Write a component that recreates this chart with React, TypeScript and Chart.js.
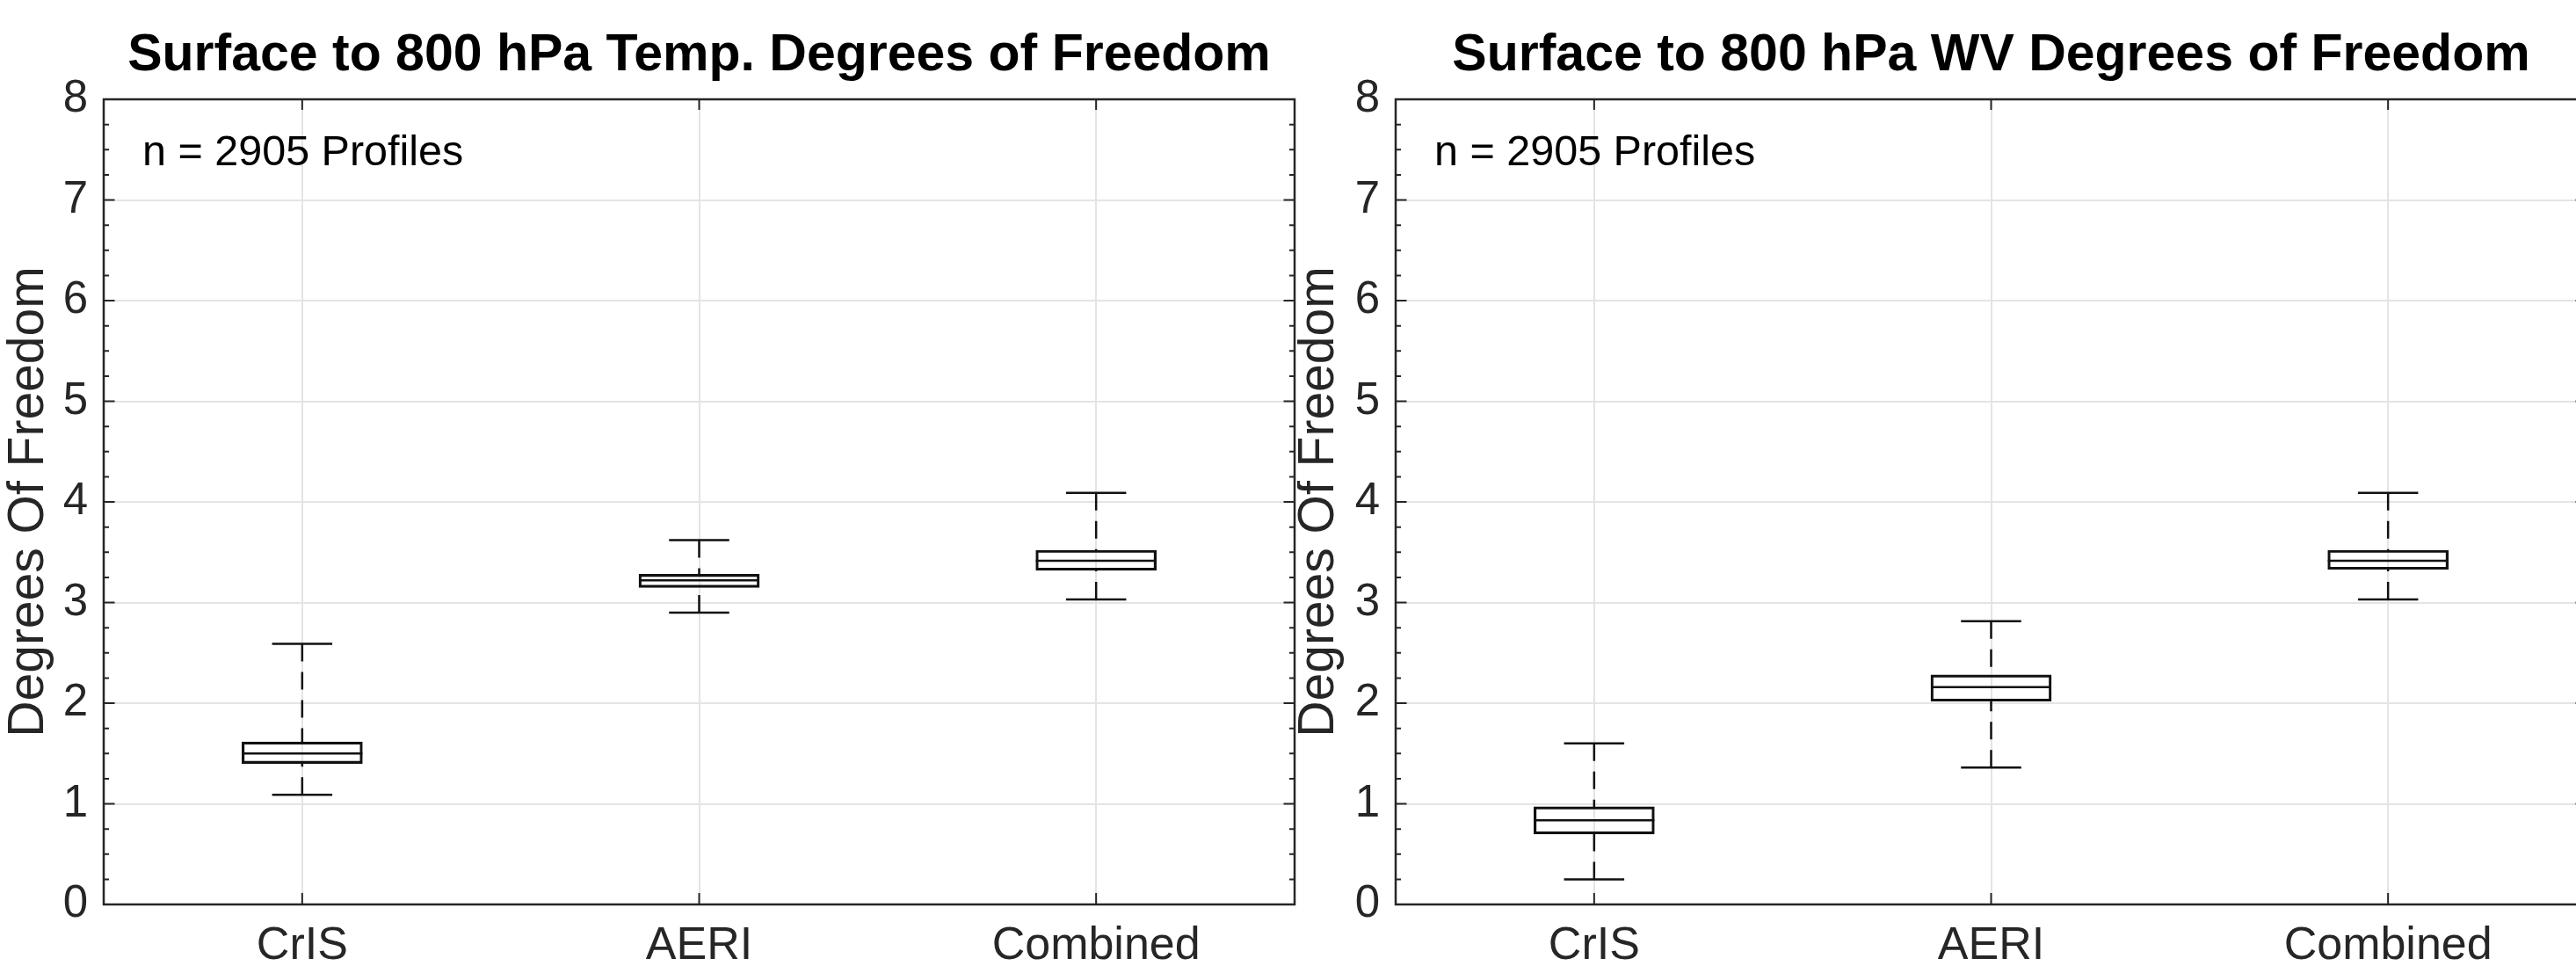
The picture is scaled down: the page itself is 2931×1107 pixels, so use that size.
import React, { useEffect, useRef } from "react";
import { Chart, registerables } from "chart.js";

Chart.register(...registerables);

// ---------- data ----------
const categories = ["CrIS", "AERI", "Combined"];
const yTickValues = [0, 1, 2, 3, 4, 5, 6, 7, 8];
const minorTickStep = 0.25;

const panelTitles = [
  "Surface to 800 hPa Temp. Degrees of Freedom",
  "Surface to 800 hPa WV Degrees of Freedom",
];
const yAxisTitle = "Degrees Of Freedom";
const annotationText = "n = 2905 Profiles";
const annotationY = 7.46;

// Temperature panel (left)
const tempLow = [1.09, 2.9, 3.03];
const tempQ1 = [1.4, 3.15, 3.32];
const tempMedian = [1.5, 3.22, 3.415];
const tempQ3 = [1.615, 3.28, 3.52];
const tempHigh = [2.59, 3.62, 4.09];

// Water vapour panel (right)
const wvLow = [0.25, 1.36, 3.03];
const wvQ1 = [0.7, 2.02, 3.33];
const wvMedian = [0.837, 2.16, 3.415];
const wvQ3 = [0.97, 2.28, 3.52];
const wvHigh = [1.6, 2.815, 4.09];

// ---------- styling ----------
const FONT = "'Liberation Sans', Arial, Helvetica, sans-serif";
const AXIS_COLOR = "#262626";
const GRID_COLOR = "#e4e4e4";
const BOX_COLOR = "#111111";

const boxWhiskerPlugin = {
  id: "boxWhiskers",
  afterDatasetsDraw(chart: any) {
    const ds: any = chart.data.datasets[0];
    const meta = chart.getDatasetMeta(0);
    const ys = chart.scales.y;
    const ctx = chart.ctx;
    ctx.save();
    ctx.strokeStyle = BOX_COLOR;
    ctx.lineWidth = 2.5;
    meta.data.forEach((bar: any, i: number) => {
      const { x, width } = bar.getProps(["x", "width"], true);
      const half = width / 2;
      const cap = width / 4;
      const pLow = ys.getPixelForValue(ds.low[i]);
      const pQ1 = ys.getPixelForValue(ds.q1[i]);
      const pMed = ys.getPixelForValue(ds.median[i]);
      const pQ3 = ys.getPixelForValue(ds.q3[i]);
      const pHigh = ys.getPixelForValue(ds.high[i]);
      // dashed whiskers (drawn from cap toward box)
      ctx.setLineDash([20, 12]);
      ctx.beginPath();
      ctx.moveTo(x, pHigh);
      ctx.lineTo(x, pQ3);
      ctx.moveTo(x, pLow);
      ctx.lineTo(x, pQ1);
      ctx.stroke();
      ctx.setLineDash([]);
      // caps
      ctx.beginPath();
      ctx.moveTo(x - cap, pHigh);
      ctx.lineTo(x + cap, pHigh);
      ctx.moveTo(x - cap, pLow);
      ctx.lineTo(x + cap, pLow);
      ctx.stroke();
      // median
      ctx.beginPath();
      ctx.moveTo(x - half, pMed);
      ctx.lineTo(x + half, pMed);
      ctx.stroke();
    });
    ctx.restore();
  },
};

const framePlugin = {
  id: "matlabFrame",
  afterDraw(chart: any) {
    const { left, right, top, bottom } = chart.chartArea;
    const ctx = chart.ctx;
    const ys = chart.scales.y;
    const xs = chart.scales.x;
    ctx.save();
    ctx.strokeStyle = AXIS_COLOR;
    ctx.lineWidth = 2.5;
    ctx.strokeRect(left, top, right - left, bottom - top);
    ctx.lineWidth = 2;
    ctx.beginPath();
    const yMin = yTickValues[0];
    const yMax = yTickValues[yTickValues.length - 1];
    for (let v = yMin; v <= yMax + 1e-9; v += minorTickStep) {
      const p = ys.getPixelForValue(v);
      const major = Math.abs(v - Math.round(v)) < 1e-6;
      const len = major ? 12.5 : 6;
      ctx.moveTo(left, p);
      ctx.lineTo(left + len, p);
      ctx.moveTo(right, p);
      ctx.lineTo(right - len, p);
    }
    categories.forEach((_, i) => {
      const p = xs.getPixelForValue(i);
      ctx.moveTo(p, bottom);
      ctx.lineTo(p, bottom - 13);
      ctx.moveTo(p, top);
      ctx.lineTo(p, top + 12);
    });
    ctx.stroke();
    // annotation
    ctx.fillStyle = "#000";
    ctx.font = `48.5px ${FONT}`;
    ctx.textAlign = "left";
    ctx.textBaseline = "middle";
    ctx.fillText(annotationText, left + 44, ys.getPixelForValue(annotationY));
    ctx.restore();
  },
};

type PanelSpec = {
  title: string;
  low: number[];
  q1: number[];
  median: number[];
  q3: number[];
  high: number[];
  yAxisWidth: number;
  rightPad: number;
  yTitlePad: number;
};

function makeConfig(p: PanelSpec): any {
  return {
    type: "bar",
    data: {
      labels: categories,
      datasets: [
        {
          data: p.q1.map((v, i) => [v, p.q3[i]]),
          low: p.low,
          q1: p.q1,
          median: p.median,
          q3: p.q3,
          high: p.high,
          backgroundColor: "rgba(0,0,0,0)",
          borderColor: BOX_COLOR,
          borderWidth: 2.5,
          borderSkipped: false,
          barThickness: 137,
        },
      ],
    },
    options: {
      animation: false,
      responsive: false,
      devicePixelRatio: 1,
      events: [],
      layout: { padding: { left: 0, right: p.rightPad, top: 0, bottom: 0 } },
      plugins: {
        legend: { display: false },
        tooltip: { enabled: false },
        title: {
          display: true,
          text: p.title,
          fullSize: false,
          color: "#000",
          font: { family: FONT, size: 59, weight: "bold", lineHeight: 1.2 },
          padding: { top: 28.1, bottom: 14.1 },
        },
      },
      scales: {
        x: {
          type: "category",
          offset: true,
          grid: { offset: false, color: GRID_COLOR, lineWidth: 2, drawTicks: false },
          border: { display: false },
          ticks: {
            color: AXIS_COLOR,
            font: { family: FONT, size: 52, lineHeight: 1.2 },
            padding: 16,
            maxRotation: 0,
            autoSkip: false,
          },
          afterFit: (s: any) => {
            s.height = 78;
          },
        },
        y: {
          min: yTickValues[0],
          max: yTickValues[yTickValues.length - 1],
          afterBuildTicks: (s: any) => {
            s.ticks = yTickValues.map((v) => ({ value: v }));
          },
          grid: { color: GRID_COLOR, lineWidth: 2, drawTicks: false },
          border: { display: false },
          ticks: {
            color: AXIS_COLOR,
            font: { family: FONT, size: 51 },
            padding: 18,
          },
          title: {
            display: true,
            text: yAxisTitle,
            color: AXIS_COLOR,
            font: { family: FONT, size: 57, lineHeight: 0.9 },
            padding: { top: p.yTitlePad, bottom: 0 },
          },
          afterFit: (s: any) => {
            s.width = p.yAxisWidth;
          },
        },
      },
    },
    plugins: [boxWhiskerPlugin, framePlugin],
  };
}

const LEFT_W = 1476;
const RIGHT_X = 1476;
const RIGHT_W = 1484;
const H = 1107;

export default function App() {
  const leftRef = useRef<HTMLCanvasElement>(null);
  const rightRef = useRef<HTMLCanvasElement>(null);

  useEffect(() => {
    const c1 = new Chart(
      leftRef.current as HTMLCanvasElement,
      makeConfig({
        title: panelTitles[0],
        low: tempLow,
        q1: tempQ1,
        median: tempMedian,
        q3: tempQ3,
        high: tempHigh,
        yAxisWidth: 118,
        rightPad: LEFT_W - 1473,
        yTitlePad: 7.3,
      })
    );
    const c2 = new Chart(
      rightRef.current as HTMLCanvasElement,
      makeConfig({
        title: panelTitles[1],
        low: wvLow,
        q1: wvQ1,
        median: wvMedian,
        q3: wvQ3,
        high: wvHigh,
        yAxisWidth: 112,
        rightPad: RIGHT_W - 1467,
        yTitlePad: 0,
      })
    );
    return () => {
      c1.destroy();
      c2.destroy();
    };
  }, []);

  return (
    <div
      style={{
        position: "fixed",
        left: 0,
        top: 0,
        width: 2931,
        height: H,
        overflow: "hidden",
        background: "#fff",
      }}
    >
      <canvas
        ref={leftRef}
        width={LEFT_W}
        height={H}
        style={{ position: "absolute", left: 0, top: 0, width: LEFT_W, height: H }}
      />
      <canvas
        ref={rightRef}
        width={RIGHT_W}
        height={H}
        style={{ position: "absolute", left: RIGHT_X, top: 0, width: RIGHT_W, height: H }}
      />
    </div>
  );
}
